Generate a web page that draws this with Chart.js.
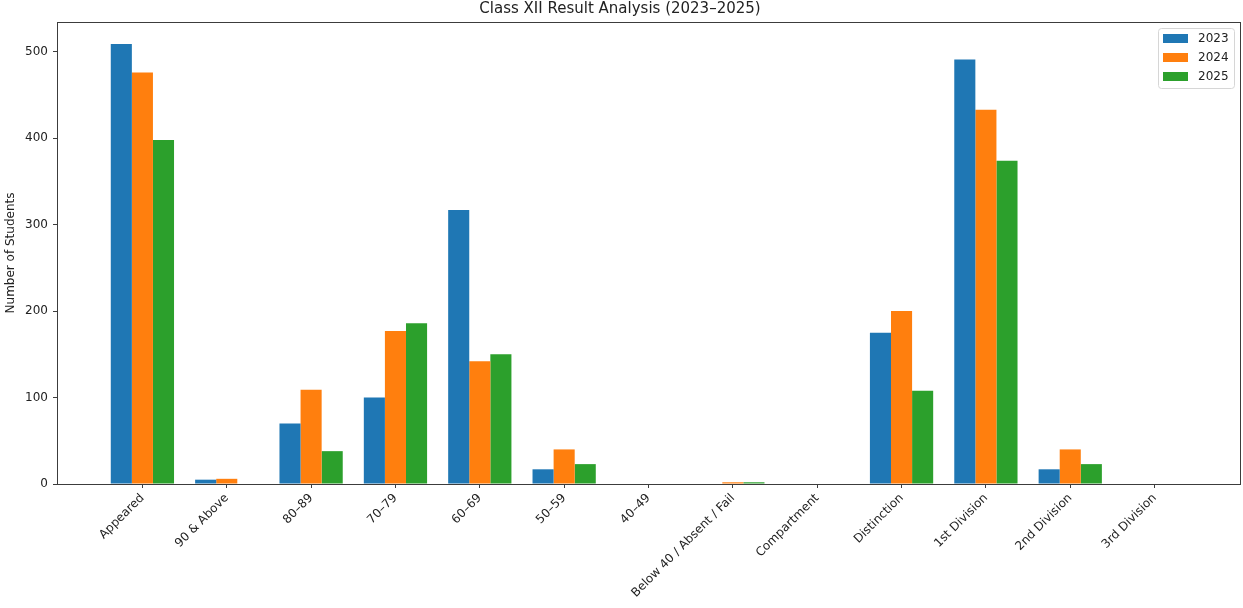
<!DOCTYPE html>
<html>
<head>
<meta charset="utf-8">
<script src="https://cdn.jsdelivr.net/npm/chart.js@4"></script>
<style>
  html, body { margin: 0; padding: 0; background: #fff; }
  #chart { display: block; }
</style>
</head>
<body>
<canvas id="chart" width="1243" height="608"></canvas>
<script>
// ── Data ───────────────────────────────────────────────────────────────────
const CATEGORIES = ['Appeared', '90 & Above', '80–89', '70–79', '60–69', '50–59', '40–49',
                    'Below 40 / Absent / Fail', 'Compartment', 'Distinction',
                    '1st Division', '2nd Division', '3rd Division'];
const YEARS     = ['2023', '2024', '2025'];
const VALS_2023 = [509, 5, 70, 100, 317, 17, 0, 0, 0, 175, 491, 17, 0];
const VALS_2024 = [476, 6, 109, 177, 142, 40, 0, 2, 0, 200, 433, 40, 0];
const VALS_2025 = [398, 0, 38, 186, 150, 23, 0, 2, 0, 108, 374, 23, 0];
const Y_TICKS   = [0, 100, 200, 300, 400, 500];

const COLORS = ['#1f77b4', '#ff7f0e', '#2ca02c'];
const TEXT   = '#222';
const LINE   = '#3c3c3c';
const FONT   = 'DejaVu Sans';

// matplotlib-style x limits: bars span ±0.375, plus 5% margin
const SPAN   = (CATEGORIES.length - 1) + 0.75;
const X_MIN  = -0.375 - SPAN * 0.05;
const X_MAX  = CATEGORIES.length - 1 + 0.375 + SPAN * 0.05;
const Y_MAX  = Math.max(...VALS_2023, ...VALS_2024, ...VALS_2025) * 1.05;

const toPoints = arr => arr.map((v, i) => ({ x: i, y: v }));

// ── Plugins ────────────────────────────────────────────────────────────────
const framePlugin = {
  id: 'frame',
  afterDatasetsDraw(chart) {
    const { ctx, chartArea: a } = chart;
    ctx.save();
    ctx.strokeStyle = LINE;
    ctx.lineWidth = 1;
    ctx.strokeRect(Math.round(a.left) + 0.5, Math.round(a.top) + 0.5,
                   Math.round(a.right - a.left), Math.round(a.bottom - a.top));
    ctx.restore();
  }
};

const boxLegend = {
  id: 'boxLegend',
  afterDraw(chart) {
    const { ctx, chartArea: a } = chart;
    const sets = chart.data.datasets;
    const w = 76, rowH = 19, h = sets.length * rowH + 3;
    const x = a.right - w - 6, y = a.top + 6;
    ctx.save();
    ctx.fillStyle = 'rgba(255,255,255,0.8)';
    ctx.strokeStyle = '#d6d6d6';
    ctx.lineWidth = 1;
    ctx.beginPath();
    ctx.roundRect(x + 0.5, y + 0.5, w, h, 3);
    ctx.fill();
    ctx.stroke();
    ctx.font = '12px ' + FONT;
    ctx.textBaseline = 'middle';
    sets.forEach((ds, i) => {
      const cy = y + 11 + i * rowH;
      ctx.fillStyle = ds.backgroundColor;
      ctx.fillRect(x + 5, cy - 5, 25, 9);
      ctx.fillStyle = TEXT;
      ctx.fillText(ds.label, x + 40, cy);
    });
    ctx.restore();
  }
};

// ── Chart ──────────────────────────────────────────────────────────────────
new Chart(document.getElementById('chart'), {
  type: 'bar',
  data: {
    datasets: [VALS_2023, VALS_2024, VALS_2025].map((vals, i) => ({
      label: YEARS[i],
      data: toPoints(vals),
      backgroundColor: COLORS[i],
      borderWidth: 0,
      categoryPercentage: 0.75,
      barPercentage: 1.0,
    }))
  },
  options: {
    responsive: false,
    animation: false,
    layout: { padding: { left: 0, right: 3, top: 0, bottom: 0 } },
    plugins: {
      legend: { display: false },
      tooltip: { enabled: false },
      title: {
        display: true,
        text: 'Class XII Result Analysis (2023–2025)',
        color: TEXT,
        font: { family: FONT, size: 15, weight: 'normal' },
        padding: { top: 0, bottom: 4 }
      }
    },
    scales: {
      x: {
        type: 'linear',
        offset: false,
        min: X_MIN,
        max: X_MAX,
        afterBuildTicks: s => { s.ticks = CATEGORIES.map((_, i) => ({ value: i })); },
        afterFit: s => { s.height = 124; },
        ticks: {
          autoSkip: false,
          minRotation: 45,
          maxRotation: 45,
          padding: 3,
          color: TEXT,
          font: { family: FONT, size: 12 },
          callback: v => CATEGORIES[v]
        },
        grid: { offset: false, drawOnChartArea: false, drawTicks: true, tickLength: 4, color: LINE },
        border: { display: false }
      },
      y: {
        min: 0,
        max: Y_MAX,
        afterBuildTicks: s => { s.ticks = Y_TICKS.map(v => ({ value: v })); },
        afterFit: s => { s.width = 57; },
        ticks: {
          padding: 5,
          color: TEXT,
          font: { family: FONT, size: 12 }
        },
        grid: { drawOnChartArea: false, drawTicks: true, tickLength: 4, color: LINE },
        border: { display: false },
        title: {
          display: true,
          text: 'Number of Students',
          color: TEXT,
          font: { family: FONT, size: 12 },
          padding: { top: 4, bottom: 4 }
        }
      }
    }
  },
  plugins: [framePlugin, boxLegend]
});
</script>
</body>
</html>
